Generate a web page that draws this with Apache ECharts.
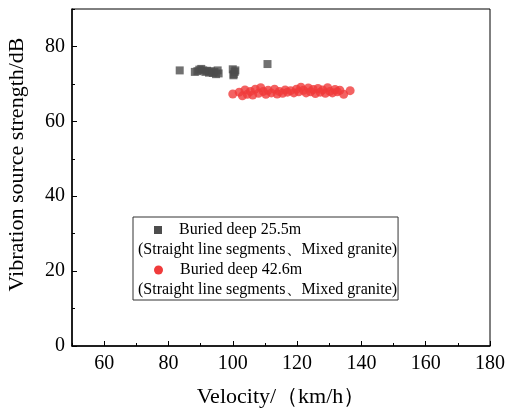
<!DOCTYPE html>
<html>
<head>
<meta charset="utf-8">
<script src="https://cdn.jsdelivr.net/npm/echarts@6/dist/echarts.min.js"></script>
<style>
  html, body { margin: 0; padding: 0; background: #fff; }
  #chart { width: 506px; height: 412px; }
</style>
</head>
<body>
<div id="chart"></div>
<script>
const seriesNames = ['Buried deep 25.5m', 'Buried deep 42.6m']
const legendNote = '(Straight line segments、Mixed granite)'

const xTicks = [60, 80, 100, 120, 140, 160, 180]
const yTicks = [0, 20, 40, 60, 80]

// buried deep 25.5m  [velocity, strength]
const deep25 = [
  [83.5, 73.6], [88.2, 73.2], [89.0, 73.4], [89.6, 73.8], [90.2, 74.0],
  [90.8, 73.6], [91.5, 73.2], [92.0, 73.5], [92.6, 73.0], [93.2, 73.4],
  [93.8, 72.9], [94.3, 73.2], [94.8, 72.6], [95.3, 73.6], [95.6, 72.8],
  [100.0, 73.9], [100.3, 72.6], [100.6, 73.2], [100.2, 72.3], [100.8, 73.6],
  [110.8, 75.3]
]

// buried deep 42.6m
const deep42 = [
  [100.0, 67.3], [102.0, 67.8], [103.0, 66.8], [103.8, 68.4], [104.5, 67.2],
  [105.5, 68.0], [106.2, 67.0], [107.0, 68.6], [108.0, 67.5], [108.7, 69.0],
  [109.5, 68.0], [110.3, 67.2], [111.0, 68.3], [112.0, 67.6], [113.0, 68.6],
  [113.8, 67.3], [114.5, 68.0], [115.5, 67.5], [116.3, 68.4], [117.0, 67.8],
  [118.0, 68.2], [119.0, 67.6], [119.8, 68.6], [120.5, 67.9], [121.2, 69.1],
  [122.0, 68.3], [122.8, 67.6], [123.5, 68.9], [124.2, 67.9], [125.0, 68.5],
  [125.7, 67.4], [126.5, 68.8], [127.2, 67.8], [128.0, 68.4], [128.8, 67.5],
  [129.5, 69.0], [130.2, 68.0], [131.0, 67.6], [131.8, 68.5], [132.5, 67.9],
  [133.3, 68.3], [134.5, 67.2], [136.5, 68.2]
]

const grey = '#4d4d4d'
const red = '#f03b3b'
const font = 'Liberation Serif'

const chart = echarts.init(document.getElementById('chart'))

const option = {
  animation: false,
  textStyle: { fontFamily: font },
  grid: {
    left: 72,
    right: 16,
    top: 9,
    bottom: 66,
    outerBoundsMode: 'none',
    show: true,
    borderColor: '#000',
    borderWidth: 1
  },
  legend: {
    orient: 'vertical',
    left: 133,
    top: 217,
    padding: [3, 1, 0, 0],
    itemGap: 0,
    itemWidth: 0,
    itemHeight: 0,
    icon: 'none',
    borderColor: '#333',
    borderWidth: 1,
    selectedMode: false,
    data: seriesNames,
    formatter: function (name) {
      const mark = name === seriesNames[0] ? '{sq|}' : '{ci|}'
      return '{ind|}' + mark + '{gap|}{t|' + name + '}\n{t|' + legendNote + '}'
    },
    textStyle: {
      lineHeight: 20,
      rich: {
        t: { fontFamily: font, fontSize: 16, color: '#000', lineHeight: 20 },
        ind: { width: 16, height: 8, lineHeight: 20 },
        gap: { width: 17, height: 8, lineHeight: 20 },
        sq: { width: 8, height: 8, lineHeight: 20, backgroundColor: grey },
        ci: { width: 9, height: 9, lineHeight: 20, backgroundColor: red, borderRadius: 4.5 }
      }
    }
  },
  xAxis: [
    {
      type: 'value',
      min: 50,
      max: 180,
      name: 'Velocity/（km/h）',
      nameLocation: 'middle',
      nameGap: 40,
      nameTextStyle: { fontFamily: font, fontSize: 22, color: '#000' },
      splitLine: { show: false },
      axisLine: { lineStyle: { color: '#000', width: 1.5 } },
      axisTick: { inside: true, length: 5, customValues: xTicks, lineStyle: { color: '#000' } },
      axisLabel: { customValues: xTicks, fontFamily: font, fontSize: 20, color: '#000', margin: 8 }
    },
    {
      type: 'value',
      min: 50,
      max: 180,
      interval: 10,
      position: 'bottom',
      splitLine: { show: false },
      axisLine: { show: false },
      axisTick: { inside: true, length: 3, lineStyle: { color: '#000' } },
      axisLabel: { show: false }
    }
  ],
  yAxis: [
    {
      type: 'value',
      min: 0,
      max: 90,
      name: 'Vibration source strength/dB',
      nameLocation: 'middle',
      nameGap: 44,
      nameTextStyle: { fontFamily: font, fontSize: 22, color: '#000', padding: [0, 0, 0, 26] },
      splitLine: { show: false },
      axisLine: { lineStyle: { color: '#000', width: 1.5 } },
      axisTick: { inside: true, length: 5, customValues: yTicks, lineStyle: { color: '#000' } },
      axisLabel: { customValues: yTicks, fontFamily: font, fontSize: 20, color: '#000', margin: 7 }
    },
    {
      type: 'value',
      min: 0,
      max: 90,
      interval: 10,
      position: 'left',
      splitLine: { show: false },
      axisLine: { show: false },
      axisTick: { inside: true, length: 3, lineStyle: { color: '#000' } },
      axisLabel: { show: false }
    }
  ],
  series: [
    {
      name: seriesNames[0],
      type: 'scatter',
      symbol: 'rect',
      symbolSize: 8,
      itemStyle: { color: grey },
      data: deep25
    },
    {
      name: seriesNames[1],
      type: 'scatter',
      symbol: 'circle',
      symbolSize: 9,
      itemStyle: { color: red },
      data: deep42
    }
  ]
}

chart.setOption(option)
</script>
</body>
</html>
